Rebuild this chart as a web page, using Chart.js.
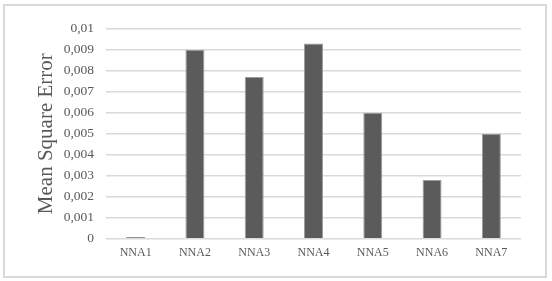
<!DOCTYPE html>
<html lang="en">
<head>
    <meta charset="UTF-8">
    <title>Mean Square Error</title>
    <script src="https://cdnjs.cloudflare.com/ajax/libs/Chart.js/4.4.1/chart.umd.min.js"></script>
    <style>
        html, body {
            margin: 0;
            padding: 0;
            background: #ffffff;
        }

        .chart-wrap {
            position: relative;
            width: 552px;
            height: 281px;
        }

        .frame {
            position: absolute;
            left: 3px;
            top: 4px;
            width: 544px;
            height: 274px;
            box-sizing: border-box;
            border: 2px solid #d9d9d9;
            pointer-events: none;
        }
    </style>
</head>
<body>

<div class="chart-wrap">
    <canvas id="mseChart" width="552" height="281"></canvas>
    <div class="frame"></div>
</div>

<script>
    // data
    const categories = ['NNA1', 'NNA2', 'NNA3', 'NNA4', 'NNA5', 'NNA6', 'NNA7'];
    const mseValues = [0.00008, 0.009, 0.0077, 0.0093, 0.006, 0.0028, 0.005];
    const yTickLabels = ['0', '0,001', '0,002', '0,003', '0,004', '0,005', '0,006', '0,007', '0,008', '0,009', '0,01'];

    const textColor = '#595959';
    const serif = "'Liberation Serif', 'Times New Roman', serif";

    new Chart(document.getElementById('mseChart'), {
        type: 'bar',
        data: {
            labels: categories,
            datasets: [{
                label: 'Mean Square Error',
                data: mseValues,
                backgroundColor: '#5b5b5b',
                borderColor: '#9c9c9c',
                borderWidth: 1,
                barPercentage: 0.32,
                categoryPercentage: 1
            }]
        },
        options: {
            responsive: false,
            animation: false,
            layout: {
                padding: { left: 33.4, right: 31, top: 28.7, bottom: 0 }
            },
            plugins: {
                legend: { display: false },
                tooltip: { enabled: false }
            },
            scales: {
                x: {
                    grid: { display: false, drawTicks: false },
                    border: { display: false },
                    ticks: {
                        color: textColor,
                        padding: 7,
                        font: { family: serif, size: 12 }
                    },
                    afterFit: function (scale) {
                        scale.height = 42.3;
                    }
                },
                y: {
                    min: 0,
                    max: 0.01,
                    grid: { color: '#d9d9d9', lineWidth: 1.5, drawTicks: false },
                    border: { display: false },
                    ticks: {
                        stepSize: 0.001,
                        color: textColor,
                        padding: 12,
                        font: { family: serif, size: 13.5 },
                        callback: function (value, index) {
                            return yTickLabels[index];
                        }
                    },
                    title: {
                        display: true,
                        text: 'Mean Square Error',
                        color: textColor,
                        padding: 0,
                        font: { family: serif, size: 21 }
                    },
                    afterFit: function (scale) {
                        scale.width = 72.6;
                    }
                }
            }
        }
    });
</script>
</body>
</html>
